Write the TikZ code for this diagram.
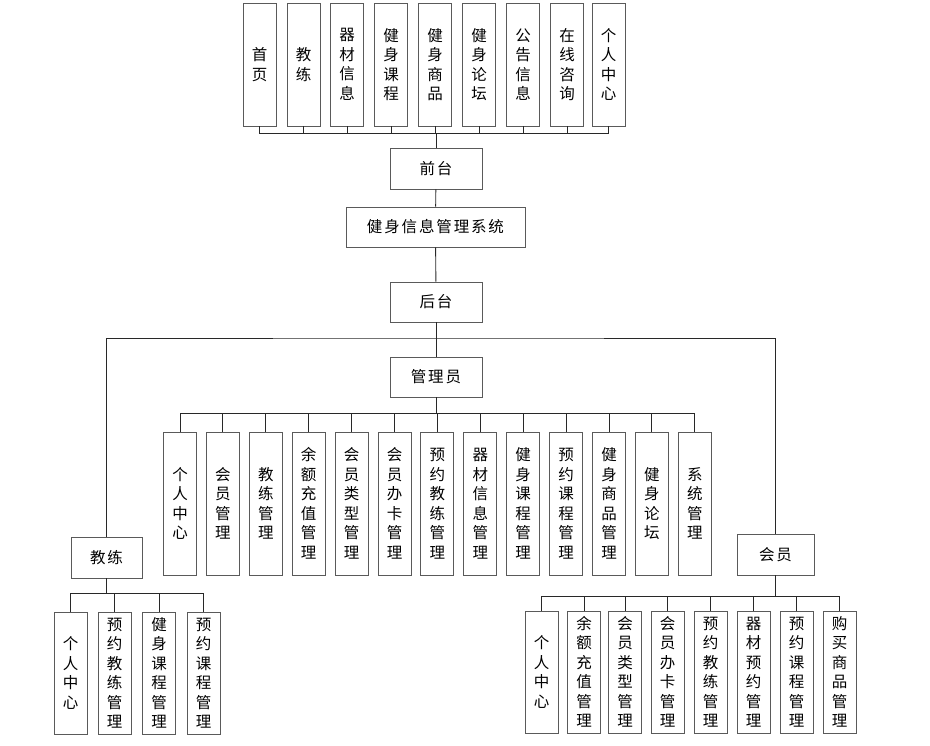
\documentclass[tikz,border=0pt]{standalone}
\usepackage{fontspec}
\setmainfont{Noto Sans CJK SC}
\usetikzlibrary{positioning,calc}
\definecolor{BoxLine}{RGB}{90,90,90}
\definecolor{WireLine}{RGB}{40,40,40}

\begin{document}
\begin{tikzpicture}[x=1pt,y=-1pt,
  every node/.style={font=\fontsize{15.5}{19.5}\selectfont, align=center, inner sep=0pt},
  box/.style={draw=BoxLine, line width=0.9pt, fill=white},
  rowbox/.style={box, font=\fontsize{15.5}{19.5}\selectfont\addfontfeature{LetterSpace=12}},
  colbox/.style={box, minimum width=33pt},
  wire/.style={WireLine, line width=0.9pt}]
  \useasboundingbox (0,0) rectangle (930,746);
  % front end modules
  \node[colbox, minimum height=123pt] (t1) at (259.5,64.5) {首\\页};
  \node[colbox, minimum height=123pt] (t2) at (303.5,64.5) {教\\练};
  \node[colbox, minimum height=123pt] (t3) at (347,64.5) {器\\材\\信\\息};
  \node[colbox, minimum height=123pt] (t4) at (391,64.5) {健\\身\\课\\程};
  \node[colbox, minimum height=123pt] (t5) at (435,64.5) {健\\身\\商\\品};
  \node[colbox, minimum height=123pt] (t6) at (479,64.5) {健\\身\\论\\坛};
  \node[colbox, minimum height=123pt] (t7) at (523,64.5) {公\\告\\信\\息};
  \node[colbox, minimum height=123pt] (t8) at (567,64.5) {在\\线\\咨\\询};
  \node[colbox, minimum height=123pt] (t9) at (608.5,64.5) {个\\人\\中\\心};
  \node[rowbox, minimum width=92pt, minimum height=41pt] (qt) at (436,168.5) {前台};
  \node[rowbox, minimum width=179pt, minimum height=40pt] (sys) at (435.5,227) {健身信息管理系统};
  \node[rowbox, minimum width=92pt, minimum height=40pt] (ht) at (436,302) {后台};
  \node[rowbox, minimum width=92pt, minimum height=40pt] (gl) at (436,377) {管理员};
  \node[rowbox, minimum width=71pt, minimum height=41pt] (jl) at (106.5,557.5) {教练};
  \node[rowbox, minimum width=77pt, minimum height=41pt] (hy) at (775.5,554.5) {会员};
  % admin modules
  \node[colbox, minimum height=143pt] (a1) at (180,503.5) {个\\人\\中\\心};
  \node[colbox, minimum height=143pt] (a2) at (222.9,503.5) {会\\员\\管\\理};
  \node[colbox, minimum height=143pt] (a3) at (265.8,503.5) {教\\练\\管\\理};
  \node[colbox, minimum height=143pt] (a4) at (308.7,503.5) {余\\额\\充\\值\\管\\理};
  \node[colbox, minimum height=143pt] (a5) at (351.6,503.5) {会\\员\\类\\型\\管\\理};
  \node[colbox, minimum height=143pt] (a6) at (394.5,503.5) {会\\员\\办\\卡\\管\\理};
  \node[colbox, minimum height=143pt] (a7) at (437.4,503.5) {预\\约\\教\\练\\管\\理};
  \node[colbox, minimum height=143pt] (a8) at (480.3,503.5) {器\\材\\信\\息\\管\\理};
  \node[colbox, minimum height=143pt] (a9) at (523.2,503.5) {健\\身\\课\\程\\管\\理};
  \node[colbox, minimum height=143pt] (a10) at (566.1,503.5) {预\\约\\课\\程\\管\\理};
  \node[colbox, minimum height=143pt] (a11) at (609,503.5) {健\\身\\商\\品\\管\\理};
  \node[colbox, minimum height=143pt] (a12) at (651.9,503.5) {健\\身\\论\\坛};
  \node[colbox, minimum height=143pt] (a13) at (694.8,503.5) {系\\统\\管\\理};
  % coach modules
  \node[colbox, minimum height=122pt] (c1) at (70.5,673) {个\\人\\中\\心};
  \node[colbox, minimum height=122pt] (c2) at (114.5,673) {预\\约\\教\\练\\管\\理};
  \node[colbox, minimum height=122pt] (c3) at (159,673) {健\\身\\课\\程\\管\\理};
  \node[colbox, minimum height=122pt] (c4) at (203.5,673) {预\\约\\课\\程\\管\\理};
  % member modules
  \node[colbox, minimum height=122pt] (m1) at (541.5,672) {个\\人\\中\\心};
  \node[colbox, minimum height=122pt] (m2) at (584,672) {余\\额\\充\\值\\管\\理};
  \node[colbox, minimum height=122pt] (m3) at (625,672) {会\\员\\类\\型\\管\\理};
  \node[colbox, minimum height=122pt] (m4) at (667.5,672) {会\\员\\办\\卡\\管\\理};
  \node[colbox, minimum height=122pt] (m5) at (710.5,672) {预\\约\\教\\练\\管\\理};
  \node[colbox, minimum height=122pt] (m6) at (753.5,672) {器\\材\\预\\约\\管\\理};
  \node[colbox, minimum height=122pt] (m7) at (796.5,672) {预\\约\\课\\程\\管\\理};
  \node[colbox, minimum height=122pt] (m8) at (839.5,672) {购\\买\\商\\品\\管\\理};
  % bus heights
  \coordinate (tbus) at (0,133);
  \coordinate (hbus) at (436,338);
  \coordinate (abus) at (0,413);
  \coordinate (cbus) at (0,593);
  \coordinate (mbus) at (0,596);
  % connectors
  \foreach \n in {t1,t2,t3,t4,t5,t6,t7,t8,t9}
    \draw[wire] (qt.north) -- (qt.north |- tbus) -| (\n.south);
  \draw[wire] (qt) -- (sys);
  \draw[wire] (sys) -- (ht);
  \draw[wire] (ht) -- (gl);
  \draw[wire] (jl.north) |- (hbus) -| (hy.north);
  \foreach \n in {a1,a2,a3,a4,a5,a6,a7,a8,a9,a10,a11,a12,a13}
    \draw[wire] (gl.south) -- (gl.south |- abus) -| (\n.north);
  \foreach \n in {c1,c2,c3,c4}
    \draw[wire] (jl.south) -- (jl.south |- cbus) -| (\n.north);
  \foreach \n in {m1,m2,m3,m4,m5,m6,m7,m8}
    \draw[wire] (hy.south) -- (hy.south |- mbus) -| (\n.north);
\end{tikzpicture}
\end{document}
